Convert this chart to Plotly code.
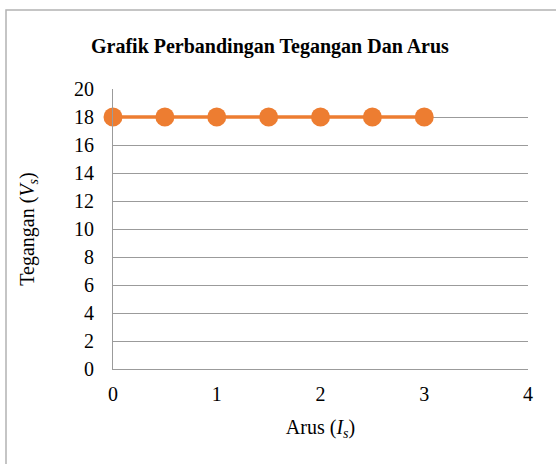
import plotly.graph_objects as go

arus = [0, 0.5, 1, 1.5, 2, 2.5, 3]
tegangan = [18, 18, 18, 18, 18, 18, 18]
x_ticks = [0, 1, 2, 3, 4]
y_ticks = [0, 2, 4, 6, 8, 10, 12, 14, 16, 18, 20]

W, H = 556, 464
L, R, T, B = 113, 28, 89, 95
pw, ph = W - L - R, H - T - B

FONT = "Liberation Serif, Times New Roman, serif"
ORANGE = "#ED7D31"
GRID = "#9b9b9b"
FS = 20

fig = go.Figure()
fig.add_trace(go.Scatter(
    x=arus, y=tegangan, mode="lines+markers",
    line=dict(color=ORANGE, width=3.5),
    marker=dict(color=ORANGE, size=19, symbol="circle"),
    cliponaxis=False, showlegend=False,
))

def px_x(p):
    return (p - L) / pw

def px_y(p):
    return (H - B - p) / ph

fig.update_layout(
    width=W, height=H,
    margin=dict(l=L, r=R, t=T, b=B),
    paper_bgcolor="white", plot_bgcolor="white",
    font=dict(family=FONT, color="#000000", size=FS),
    showlegend=False,
    shapes=[dict(type="rect", xref="paper", yref="paper",
                 x0=px_x(6), x1=px_x(570), y0=px_y(10), y1=px_y(480),
                 line=dict(color="#b3b3b3", width=1.5), fillcolor="rgba(0,0,0,0)",
                 layer="below")],
    annotations=[dict(text="<b>Grafik Perbandingan Tegangan Dan Arus</b>",
                      xref="paper", yref="paper", x=px_x(270), y=px_y(46),
                      xanchor="center", yanchor="middle", showarrow=False,
                      font=dict(family=FONT, size=FS, color="#000000"))],
)

fig.update_xaxes(
    range=[0, 4], tickvals=x_ticks, ticktext=[str(v) for v in x_ticks],
    showgrid=False, zeroline=False,
    showline=True, linecolor=GRID, linewidth=1,
    ticks="", ticklabelstandoff=7,
    tickfont=dict(family=FONT, size=FS, color="#000000"),
    title=dict(text="Arus (<i>I<sub>s</sub></i>)", standoff=15,
               font=dict(family=FONT, size=FS, color="#000000")),
    fixedrange=True,
)
fig.update_yaxes(
    range=[0, 20], tickvals=y_ticks, ticktext=[str(v) for v in y_ticks],
    showgrid=True, gridcolor=GRID, gridwidth=1,
    zeroline=False, showline=True, linecolor=GRID, linewidth=1,
    ticks="", ticklabelstandoff=14,
    tickfont=dict(family=FONT, size=FS, color="#000000"),
    title=dict(text="Tegangan (<i>V<sub>s</sub></i>)", standoff=34,
               font=dict(family=FONT, size=FS, color="#000000")),
    fixedrange=True,
)

fig.write_html("out.html", config={"displayModeBar": False},
               post_script="document.body.style.margin='0';")
